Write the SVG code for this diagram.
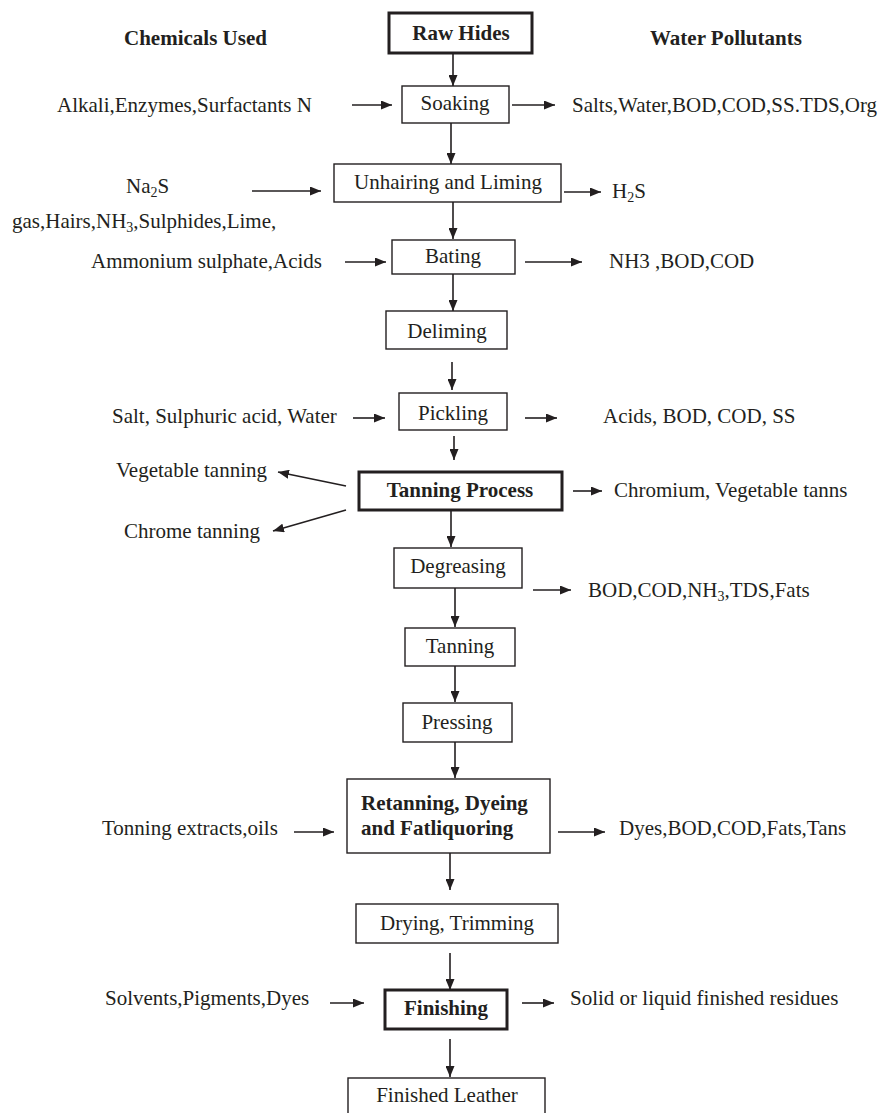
<svg xmlns="http://www.w3.org/2000/svg" width="887" height="1113" viewBox="0 0 887 1113">
<style>
text{font-family:"Liberation Serif","Times New Roman",serif;font-size:21px;fill:#231f20}
.b{font-weight:bold}
.m{text-anchor:middle}
.box{fill:#fff;stroke:#231f20;stroke-width:1.4}
.tbox{fill:#fff;stroke:#231f20;stroke-width:3}
.c line{stroke:#231f20;stroke-width:1.6;marker-end:url(#ah)}
.sub{font-size:14px}
</style>
<defs>
<marker id="ah" markerUnits="userSpaceOnUse" markerWidth="11" markerHeight="9" refX="11" refY="4.5" orient="auto">
<path d="M0,0 L11,4.5 L0,9 z" fill="#231f20"/>
</marker>
</defs>
<rect width="887" height="1113" fill="#fff"/>
<text class="b" x="124" y="45">Chemicals Used</text>
<text class="b" x="650" y="45">Water Pollutants</text>

<g class="c" id="connectors">
<line x1="453" y1="53" x2="453" y2="86"/>
<line x1="352" y1="105" x2="392" y2="105"/>
<line x1="512" y1="105" x2="555" y2="105"/>
<line x1="451" y1="123" x2="451" y2="164"/>
<line x1="252" y1="191" x2="321" y2="191"/>
<line x1="564" y1="192" x2="601" y2="192"/>
<line x1="453" y1="202" x2="453" y2="239"/>
<line x1="345" y1="262" x2="386" y2="262"/>
<line x1="525" y1="262" x2="582" y2="262"/>
<line x1="453" y1="274" x2="453" y2="311"/>
<line x1="452" y1="362" x2="452" y2="390"/>
<line x1="353" y1="418" x2="385" y2="418"/>
<line x1="525" y1="418" x2="557" y2="418"/>
<line x1="454" y1="436" x2="454" y2="460"/>
<line x1="346" y1="486" x2="278" y2="472"/>
<line x1="346" y1="510" x2="273" y2="531"/>
<line x1="573" y1="491" x2="602" y2="491"/>
<line x1="451" y1="510" x2="451" y2="547"/>
<line x1="533" y1="590" x2="571" y2="590"/>
<line x1="455" y1="588" x2="455" y2="627"/>
<line x1="455" y1="666" x2="455" y2="702"/>
<line x1="455" y1="742" x2="455" y2="778"/>
<line x1="294" y1="832" x2="334" y2="832"/>
<line x1="558" y1="832" x2="605" y2="832"/>
<line x1="450" y1="853" x2="450" y2="890"/>
<line x1="450" y1="953" x2="450" y2="990"/>
<line x1="330" y1="1003" x2="364" y2="1003"/>
<line x1="522" y1="1003" x2="554" y2="1003"/>
<line x1="450" y1="1039" x2="450" y2="1077"/>
</g>

<g id="raw-hides"><rect class="tbox" x="389" y="13" width="143" height="40"/><text class="b m" x="461" y="40">Raw Hides</text></g>
<g id="soaking"><rect class="box" x="402" y="86" width="107" height="37"/><text class="m" x="455" y="110">Soaking</text></g>
<g id="soaking-in"><text x="57" y="112">Alkali,Enzymes,Surfactants N</text></g>
<g id="soaking-out"><text x="572" y="112">Salts,Water,BOD,COD,SS.TDS,Org</text></g>

<g id="unhairing"><rect class="box" x="334" y="164" width="227" height="38"/><text class="m" x="448" y="189">Unhairing and Liming</text></g>
<g id="unhairing-in"><text x="126" y="193">Na<tspan class="sub" dy="4">2</tspan><tspan dy="-4">S</tspan></text>
<text x="12" y="228">gas,Hairs,NH<tspan class="sub" dy="4">3</tspan><tspan dy="-4">,Sulphides,Lime,</tspan></text></g>
<g id="unhairing-out"><text x="612" y="198">H<tspan class="sub" dy="4">2</tspan><tspan dy="-4">S</tspan></text></g>

<g id="bating"><rect class="box" x="392" y="240" width="123" height="34"/><text class="m" x="453" y="263">Bating</text></g>
<g id="bating-in"><text x="91" y="268">Ammonium sulphate,Acids</text></g>
<g id="bating-out"><text x="609" y="268">NH3 ,BOD,COD</text></g>

<g id="deliming"><rect class="box" x="386" y="311" width="121" height="38"/><text class="m" x="447" y="338">Deliming</text></g>

<g id="pickling"><rect class="box" x="399" y="393" width="108" height="37"/><text class="m" x="453" y="420">Pickling</text></g>
<g id="pickling-in"><text x="112" y="423">Salt, Sulphuric acid, Water</text></g>
<g id="pickling-out"><text x="603" y="423">Acids, BOD, COD, SS</text></g>

<g id="tanning-process"><rect class="tbox" x="359" y="472" width="203" height="38"/><text class="b m" x="460" y="497">Tanning Process</text></g>
<g id="vegetable"><text x="116" y="477">Vegetable tanning</text></g>
<g id="chrome"><text x="124" y="538">Chrome tanning</text></g>
<g id="tanning-out"><text x="614" y="497">Chromium, Vegetable tanns</text></g>

<g id="degreasing"><rect class="box" x="394" y="548" width="128" height="40"/><text class="m" x="458" y="573">Degreasing</text></g>
<g id="degreasing-out"><text x="588" y="597">BOD,COD,NH<tspan class="sub" dy="4">3</tspan><tspan dy="-4">,TDS,Fats</tspan></text></g>

<g id="tanning"><rect class="box" x="405" y="628" width="110" height="38"/><text class="m" x="460" y="653">Tanning</text></g>
<g id="pressing"><rect class="box" x="403" y="703" width="109" height="39"/><text class="m" x="457" y="729">Pressing</text></g>

<g id="retanning"><rect class="box" x="347" y="779" width="203" height="74"/><text class="b" x="361" y="810">Retanning, Dyeing</text><text class="b" x="361" y="835">and Fatliquoring</text></g>
<g id="retanning-in"><text x="102" y="835">Tonning extracts,oils</text></g>
<g id="retanning-out"><text x="619" y="835">Dyes,BOD,COD,Fats,Tans</text></g>

<g id="drying"><rect class="box" x="356" y="904" width="202" height="39"/><text class="m" x="457" y="930">Drying, Trimming</text></g>

<g id="finishing"><rect class="tbox" x="385" y="990" width="122" height="39"/><text class="b m" x="446" y="1015">Finishing</text></g>
<g id="finishing-in"><text x="105" y="1005">Solvents,Pigments,Dyes</text></g>
<g id="finishing-out"><text x="570" y="1005">Solid or liquid finished residues</text></g>

<g id="finished-leather"><rect class="box" x="348" y="1078" width="197" height="45"/><text class="m" x="447" y="1102">Finished Leather</text></g>
</svg>
